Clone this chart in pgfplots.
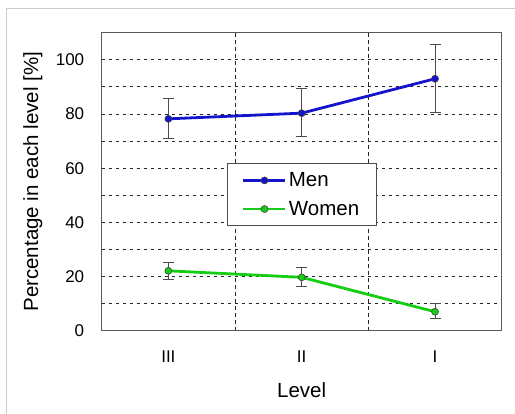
\documentclass[border=0pt]{standalone}
\usepackage{fontspec}
\setmainfont{Liberation Sans}
\usepackage{pgfplots}
\pgfplotsset{compat=1.18}
\definecolor{menblue}{RGB}{20,20,205}
\definecolor{womgreen}{RGB}{20,205,20}
\pgfplotsset{myerr/.style={
  error bars/y dir=both, error bars/y explicit,
  error bars/error bar style={black!70, line width=0.8pt, solid},
  error bars/error mark options={rotate=90, mark size=5.5pt, black!70, line width=0.8pt}}}
\begin{document}
\begin{tikzpicture}
\useasboundingbox (-101.7pt,-83.3pt) rectangle (413.3pt,330.7pt);
\draw[black!20, line width=1pt] (-94.7pt,-83.3pt) -- (-94.7pt,321.7pt) -- (413.3pt,321.7pt);
\begin{axis}[
  at={(0pt,0pt)}, anchor=south west,
  scale only axis, width=400pt, height=298pt,
  xmin=-0.5, xmax=2.5, ymin=0, ymax=110,
  xtick={0,1,2}, xticklabels={III,II,I},
  minor xtick={0.5,1.5},
  ytick={0,20,40,60,80,100},
  minor ytick={10,30,50,70,90},
  xminorgrids, ymajorgrids, yminorgrids,
  grid style={black!85, line width=0.9pt, dash pattern=on 3.5pt off 3.5pt},
  minor grid style={black!85, line width=0.9pt, dash pattern=on 3.5pt off 3.5pt},
  major tick length=0pt, minor tick length=0pt,
  axis line style={black!65, line width=1pt},
  /pgf/number format/assume math mode=true,
  tick label style={font=\fontsize{17}{20}\selectfont},
  yticklabel style={xshift=-14pt},
  xticklabel style={yshift=-17pt},
  xlabel={Level}, ylabel={Percentage in each level [\%]},
  every axis y label/.style={at={(axis description cs:-0.172,0.5)}, rotate=90, anchor=center, font=\fontsize{20.5}{24}\selectfont},
  every axis x label/.style={at={(axis description cs:0.5,-0.198)}, anchor=center, font=\fontsize{20.5}{24}\selectfont},
  legend style={at={(0.3125,0.562)}, anchor=north west, draw=black!70, line width=0.8pt,
    font=\fontsize{20.5}{24}\selectfont, inner xsep=15pt, inner ysep=7pt,
    row sep=9pt, cells={anchor=west}},
  legend image code/.code={\draw[mark repeat=2,mark phase=2,#1] plot coordinates {(0pt,0pt) (21pt,0pt) (42pt,0pt)};},
]
\addplot[menblue, line width=2.8pt, mark=*, mark size=3.5pt,
  mark options={fill=menblue, draw=black!75, line width=0.6pt}, myerr]
  coordinates {
    (0,78.2) += (0,7.4) -= (0,7.1)
    (1,80.3) += (0,9.2) -= (0,8.7)
    (2,93.0) += (0,12.8) -= (0,12.5)
  };
\addlegendentry{Men}
\addplot[womgreen, line width=2.8pt, mark=*, mark size=3.5pt,
  mark options={fill=womgreen, draw=black!75, line width=0.6pt}, myerr]
  coordinates {
    (0,22.1) += (0,3.2) -= (0,3.3)
    (1,19.7) += (0,3.7) -= (0,3.4)
    (2,7.0) += (0,2.9) -= (0,2.4)
  };
\addlegendentry{Women}
\end{axis}
\end{tikzpicture}
\end{document}
